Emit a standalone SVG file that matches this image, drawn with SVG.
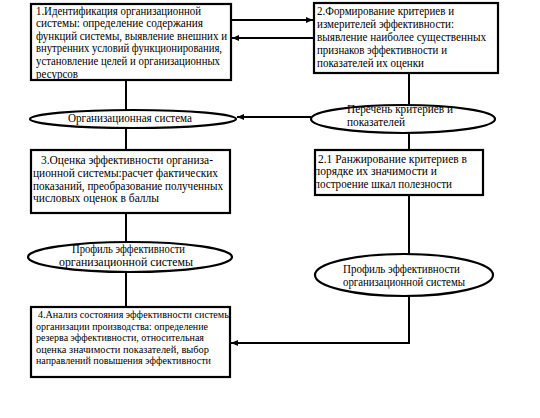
<svg xmlns="http://www.w3.org/2000/svg" width="540" height="418" viewBox="0 0 540 418">
<style>
.box{fill:#fff;stroke:#000;stroke-width:2.2}
.ell{fill:#fff;stroke:#000;stroke-width:2.2}
.ln{fill:none;stroke:#000;stroke-width:2}
text{font-family:"Liberation Serif",serif;font-size:12px;fill:#000}
.sm{font-size:11px}
</style>
<defs>
<marker id="ah" markerWidth="8" markerHeight="8" refX="7" refY="4" orient="auto" markerUnits="userSpaceOnUse">
<path d="M0,1 L7,4 L0,7 Z" fill="#000"/>
</marker>
<clipPath id="c1"><rect x="31" y="4" width="200" height="75"/></clipPath>
<clipPath id="c4"><rect x="31" y="307" width="199" height="70"/></clipPath>
</defs>
<g id="connectors">
<path class="ln" d="M231,20 H313" marker-end="url(#ah)"/>
<path class="ln" d="M314,38 H232" marker-end="url(#ah)"/>
<path class="ln" d="M126,80 V110"/>
<path class="ln" d="M126,128 V150"/>
<path class="ln" d="M409,73 V104"/>
<path class="ln" d="M311,117 H237" marker-end="url(#ah)"/>
<path class="ln" d="M409,133 V150"/>
<path class="ln" d="M126,213 V242"/>
<path class="ln" d="M126,273 V307"/>
<path class="ln" d="M409,195 V254"/>
<path class="ln" d="M409,296 V343 H231" marker-end="url(#ah)"/>
</g>
<g id="n1">
<rect class="box" x="31" y="4" width="200" height="76"/>
<g clip-path="url(#c1)">
<text x="36" y="14.5" textLength="165" lengthAdjust="spacingAndGlyphs">1.Идентификация организационной</text>
<text x="36" y="27" textLength="167" lengthAdjust="spacingAndGlyphs">системы: определение содержания</text>
<text x="36" y="39.5" textLength="191" lengthAdjust="spacingAndGlyphs">функций системы, выявление внешних и</text>
<text x="36" y="52" textLength="186" lengthAdjust="spacingAndGlyphs">внутренних условий функционирования,</text>
<text x="36" y="64.5" textLength="184" lengthAdjust="spacingAndGlyphs">установление целей и организационных</text>
<text x="36" y="77.5" textLength="42" lengthAdjust="spacingAndGlyphs">ресурсов</text>
</g>
</g>
<g id="n2">
<rect class="box" x="314" y="3" width="184" height="70"/>
<text x="317" y="15" textLength="137" lengthAdjust="spacingAndGlyphs">2.Формирование критериев и</text>
<text x="317" y="28" textLength="137" lengthAdjust="spacingAndGlyphs">измерителей эффективности:</text>
<text x="317" y="41" textLength="169" lengthAdjust="spacingAndGlyphs">выявление наиболее существенных</text>
<text x="317" y="54" textLength="130" lengthAdjust="spacingAndGlyphs">признаков эффективности и</text>
<text x="317" y="67" textLength="107" lengthAdjust="spacingAndGlyphs">показателей их оценки</text>
</g>
<g id="e1">
<ellipse class="ell" cx="133" cy="119" rx="103" ry="9"/>
<text x="68" y="122" textLength="124" lengthAdjust="spacingAndGlyphs">Организационная система</text>
</g>
<g id="e2">
<ellipse class="ell" cx="403" cy="119" rx="92" ry="14"/>
<text x="347" y="113" textLength="106" lengthAdjust="spacingAndGlyphs">Перечень критериев и</text>
<text x="347" y="125.5" textLength="58" lengthAdjust="spacingAndGlyphs">показателей</text>
</g>
<g id="n3">
<rect class="box" x="31" y="150" width="199" height="63"/>
<text x="41" y="164" textLength="172" lengthAdjust="spacingAndGlyphs">3.Оценка эффективности организа-</text>
<text x="33" y="177" textLength="185" lengthAdjust="spacingAndGlyphs">ционной системы:расчет фактических</text>
<text x="33" y="189.5" textLength="190" lengthAdjust="spacingAndGlyphs">показаний, преобразование полученных</text>
<text x="33" y="202" textLength="126" lengthAdjust="spacingAndGlyphs">числовых оценок в баллы</text>
</g>
<g id="n21">
<rect class="box" x="315" y="150" width="168" height="45"/>
<text x="318" y="162.5" textLength="149" lengthAdjust="spacingAndGlyphs">2.1 Ранжирование критериев в</text>
<text x="314" y="175" textLength="123" lengthAdjust="spacingAndGlyphs">порядке их значимости и</text>
<text x="314" y="187.5" textLength="138" lengthAdjust="spacingAndGlyphs">построение шкал полезности</text>
</g>
<g id="e3">
<ellipse class="ell" cx="130" cy="257" rx="102" ry="15"/>
<text x="72" y="252.5" textLength="113" lengthAdjust="spacingAndGlyphs">Профиль эффективности</text>
<text x="59" y="265.5" textLength="134" lengthAdjust="spacingAndGlyphs">организационной системы</text>
</g>
<g id="e4">
<ellipse class="ell" cx="404" cy="275" rx="89" ry="21"/>
<text x="343" y="273" textLength="117" lengthAdjust="spacingAndGlyphs">Профиль эффективности</text>
<text x="343" y="286" textLength="122" lengthAdjust="spacingAndGlyphs">организационной системы</text>
</g>
<g id="n4">
<rect class="box" x="31" y="307" width="199" height="70"/>
<g clip-path="url(#c4)">
<text class="sm" x="38" y="318" textLength="193" lengthAdjust="spacingAndGlyphs">4.Анализ состояния эффективности системы</text>
<text class="sm" x="36" y="329.5" textLength="172" lengthAdjust="spacingAndGlyphs">организации производства: определение</text>
<text class="sm" x="36" y="341" textLength="168" lengthAdjust="spacingAndGlyphs">резерва эффективности, относительная</text>
<text class="sm" x="36" y="352.5" textLength="173" lengthAdjust="spacingAndGlyphs">оценка значимости показателей, выбор</text>
<text class="sm" x="36" y="364" textLength="175" lengthAdjust="spacingAndGlyphs">направлений повышения эффективности</text>
</g>
</g>
</svg>
